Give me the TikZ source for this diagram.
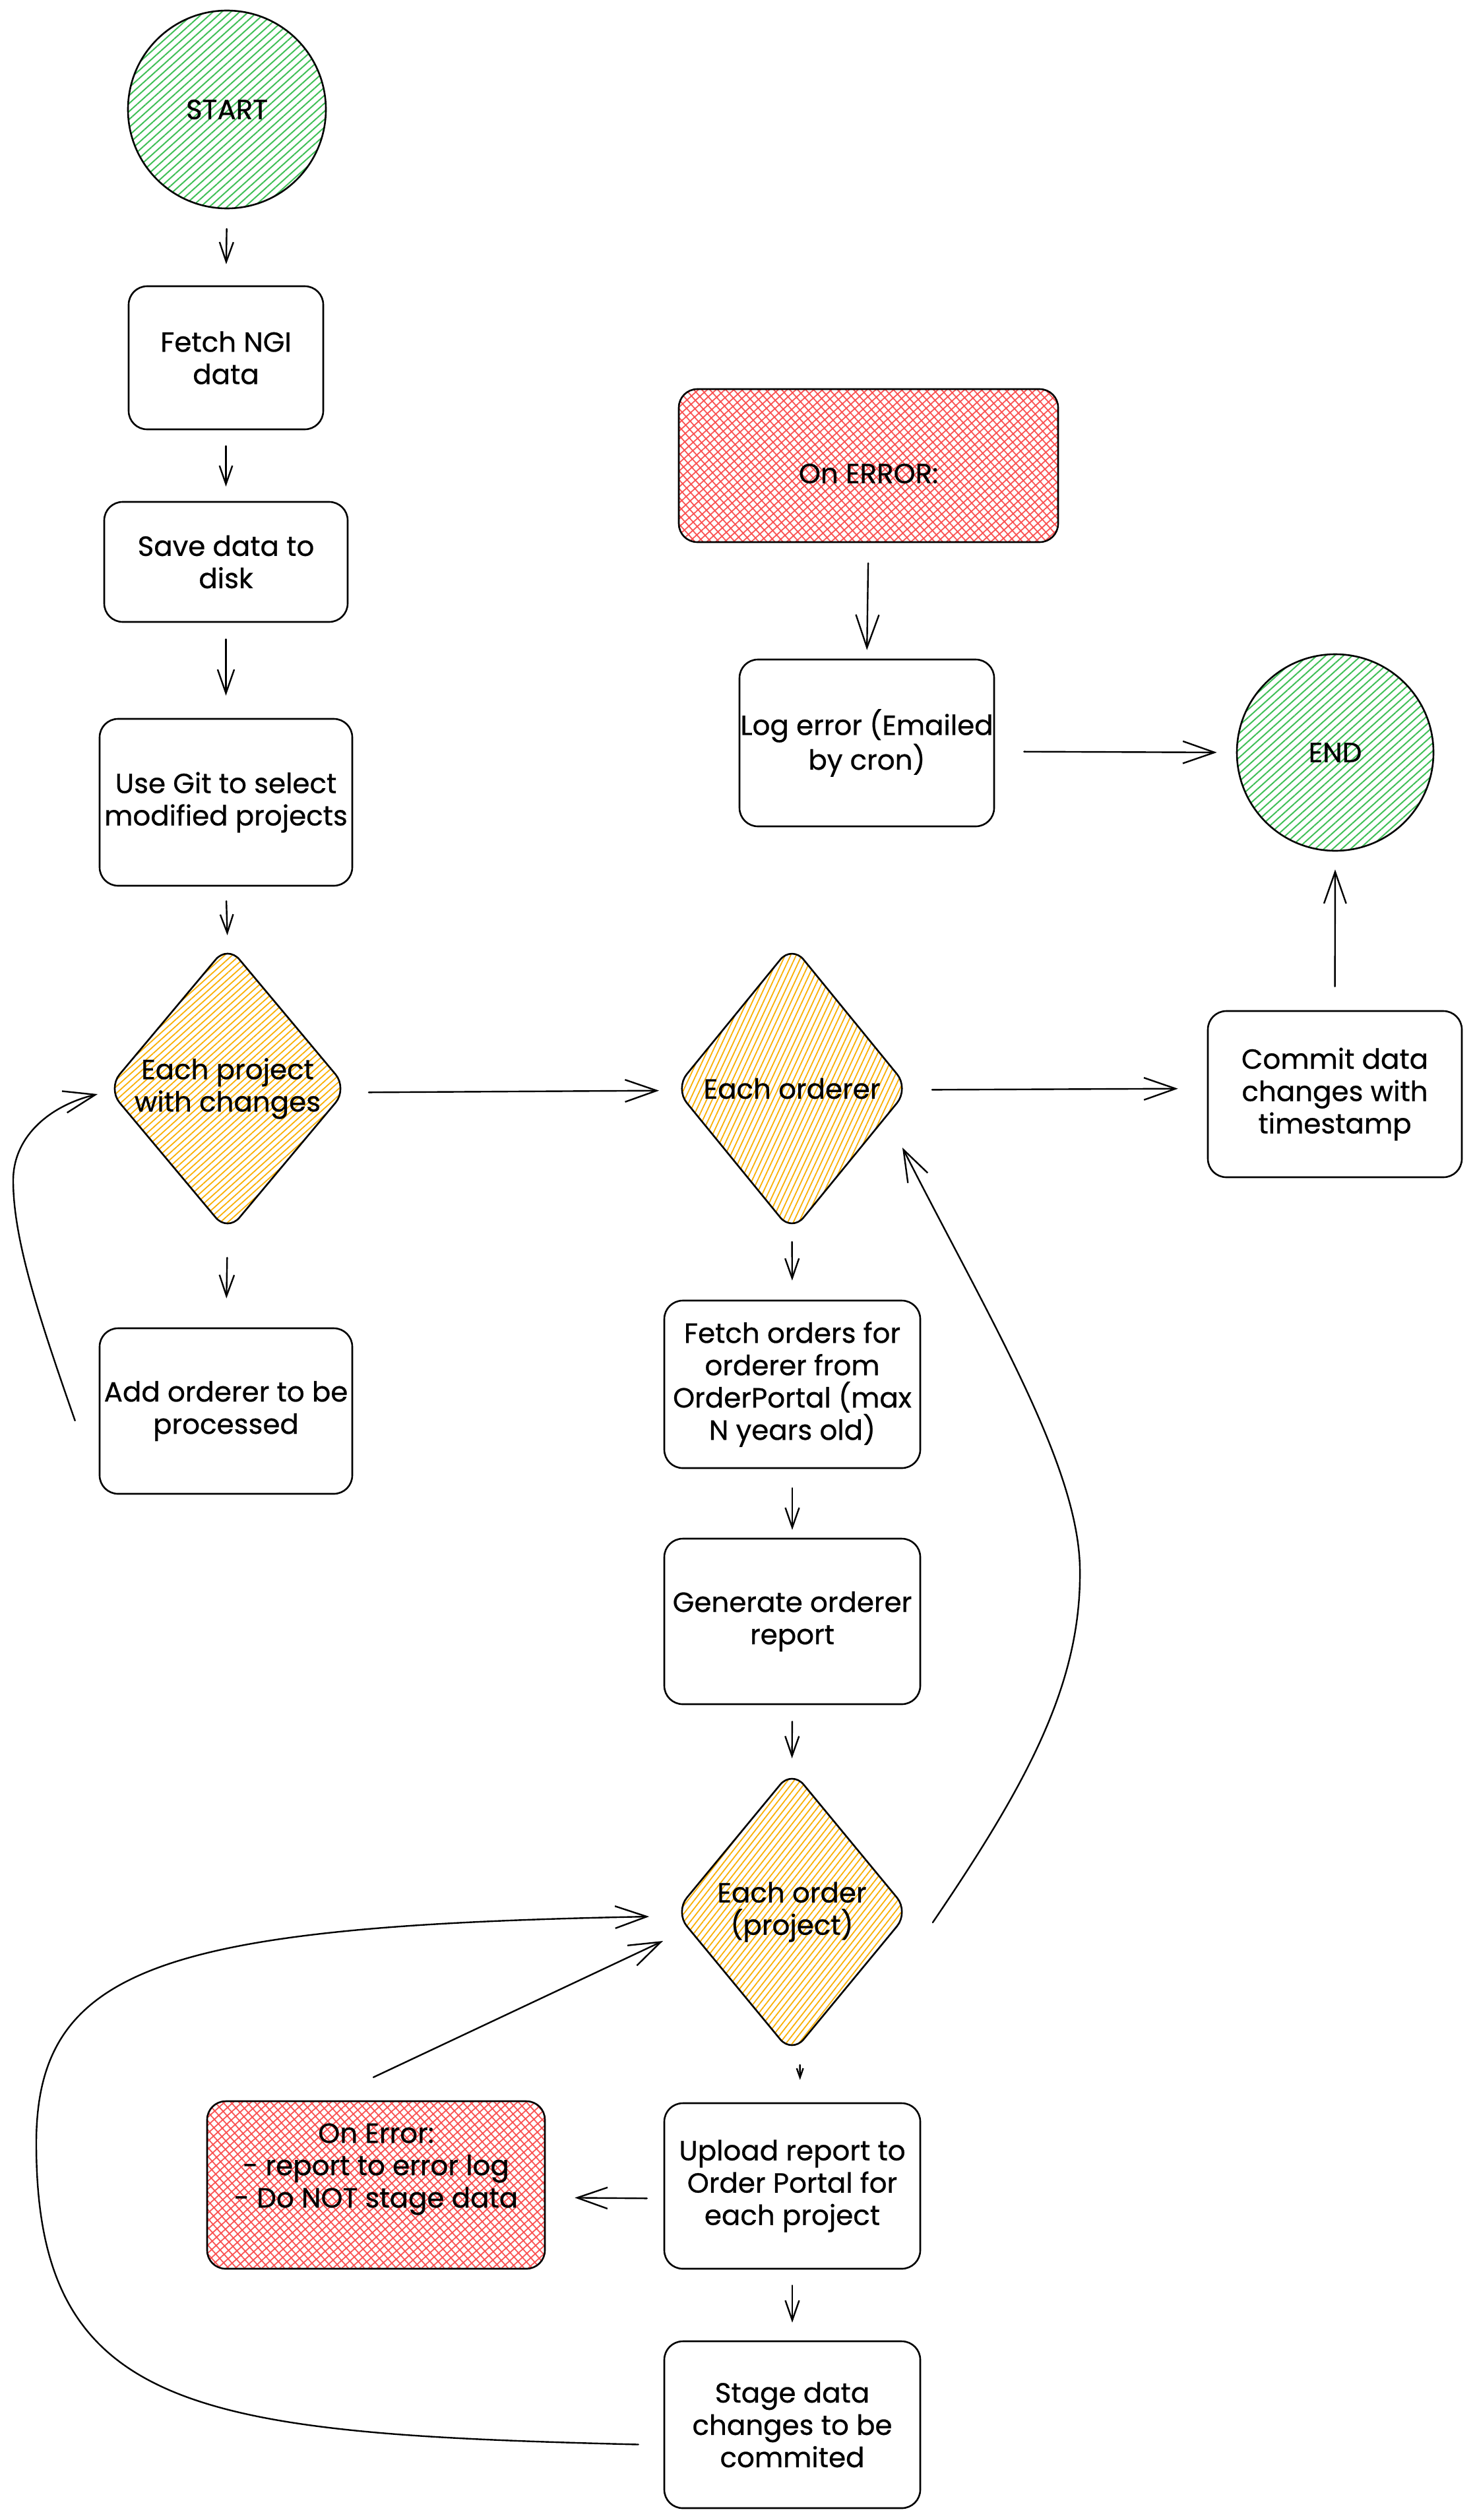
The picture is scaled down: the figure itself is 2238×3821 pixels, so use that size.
\documentclass[tikz,border=0pt]{standalone}
\usepackage{fontspec}
\setmainfont{Poppins}
\newfontfamily\flowfont{Poppins}[FakeBold=0.6]
\usetikzlibrary{shapes.geometric,arrows.meta,patterns.meta,calc}
\definecolor{hgreen}{HTML}{40C057}
\definecolor{hyellow}{HTML}{FAB005}
\definecolor{hred}{HTML}{FA5252}
\newcommand\flowtxt{\flowfont\fontsize{21}{24.5}\selectfont}
\tikzset{
 base/.style={draw=black, line width=1.3pt, align=center, font=\flowtxt, inner sep=0pt},
 rbox/.style={base, rectangle, rounded corners=14pt},
 circ/.style={base, circle, pattern={Lines[angle=42,distance=4.5pt,line width=1pt]}, pattern color=hgreen},
 dia/.style={base, diamond, rounded corners=14pt, pattern={Lines[angle=#1,distance=3.8pt,line width=0.9pt]}, pattern color=hyellow},
 errbox/.style={rbox, pattern={Hatch[angle=42,distance=4.5pt,line width=0.9pt]}, pattern color=hred},
 ar/.style={line width=1.2pt, line cap=round, -{Straight Barb[length=#1,width'=0pt 0.7,line width=1.2pt]}},
 ar/.default=15pt,
 lbl/.style={font=\flowtxt, align=center}
}
\begin{document}
\begin{tikzpicture}[x=0.5pt,y=-0.5pt]
\fill[white] (0,0) rectangle (2238,3821);
\useasboundingbox (0,0) rectangle (2238,3821);

% left column
\node[circ, minimum size=150pt] (start) at (344,166) {START};
\node[rbox, minimum width=147.5pt, minimum height=108.5pt] (fetch) at (342.5,542.5) {Fetch NGI\\data};
\node[rbox, minimum width=184.5pt, minimum height=91pt] (save) at (342.5,852) {Save data to\\disk};
\node[rbox, minimum width=191.5pt, minimum height=126.5pt] (git) at (342.5,1216.5) {Use Git to select\\modified projects};
\node[dia=42, minimum width=182pt, minimum height=217.5pt, label={[lbl]center:Each project\\with changes}] (d1) at (345,1650.5) {};
\node[rbox, minimum width=191.5pt, minimum height=125.5pt] (add) at (342.5,2139.5) {Add orderer to be\\processed};

% error / end
\node[errbox, minimum width=287.5pt, minimum height=116pt, label={[lbl,yshift=-6pt]center:On ERROR:}] (err) at (1316.5,706) {};
\node[rbox, minimum width=193pt, minimum height=126.5pt] (log) at (1314,1126.5) {Log error (Emailed\\by cron)};
\node[circ, minimum size=149pt] (end) at (2024,1141) {END};

% middle column
\node[dia=65, minimum width=177.5pt, minimum height=217.5pt, label={[lbl]center:Each orderer}] (d2) at (1200.5,1650.5) {};
\node[rbox, minimum width=192.5pt, minimum height=126pt] (commit) at (2023.5,1659) {Commit data\\changes with\\timestamp};
\node[rbox, minimum width=194pt, minimum height=127pt] (fo) at (1201,2099) {Fetch orders for\\orderer from\\OrderPortal (max\\N years old)};
\node[rbox, minimum width=194pt, minimum height=125.5pt] (gen) at (1201,2458.5) {Generate orderer\\report};
\node[dia=52, minimum width=177.5pt, minimum height=215pt, label={[lbl]center:Each order\\(project)}] (d3) at (1200.5,2899) {};
\node[rbox, minimum width=194pt, minimum height=125.5pt] (up) at (1201,3314.5) {Upload report to\\Order Portal for\\each project};
\node[errbox, minimum width=256pt, minimum height=127pt, label={[lbl,yshift=12pt]center:On Error:\\- report to error log\\- Do NOT stage data}] (oe) at (570,3313) {};
\node[rbox, minimum width=194pt, minimum height=126.5pt] (stage) at (1201,3676.5) {Stage data\\changes to be\\commited};

% straight connectors
\draw[ar=15pt, shorten <=15pt, shorten >=16pt] (start.south) -- (fetch.north);
\draw[ar=14pt, shorten <=12pt, shorten >=11pt] (fetch.south) -- (save.north);
\draw[ar=18pt, shorten <=12.5pt, shorten >=17pt] (save.south) -- (git.north);
\draw[ar=14pt, shorten <=11pt, shorten >=7pt] (git.south) -- (d1.north);
\draw[ar=16pt, shorten <=19pt, shorten >=22pt] (d1.south) -- (add.north);
\draw[ar=24pt, shorten <=15.5pt, shorten >=11.5pt] ($(d1.east)+(0,6)$) -- ($(d2.west)+(0,3)$);
\draw[ar=24pt, shorten <=17pt, shorten >=22pt] ($(d2.east)+(0,2)$) -- ($(d2.east -| commit.west)+(0,0)$);
\draw[ar=24pt, shorten <=18pt, shorten >=13.5pt] (commit.north) -- (end.south);
\draw[ar=25pt, shorten <=15.5pt, shorten >=6.5pt] (err.south) -- (log.north);
\draw[ar=24pt, shorten <=22pt, shorten >=14.5pt] ($(log.east)+(0,13)$) -- (end.west);
\draw[ar=15pt, shorten <=7pt, shorten >=14.5pt] (d2.south) -- (fo.north);
\draw[ar=15pt, shorten <=14.5pt, shorten >=6pt] (fo.south) -- (gen.north);
\draw[ar=15pt, shorten <=12.5pt, shorten >=8.5pt] (gen.south) -- (d3.north);
\draw[ar=7pt, shorten <=8pt, shorten >=17pt] ($(d3.south)+(12,0)$) -- ($(up.north)+(12,0)$);
\draw[ar=23pt, shorten <=12.5pt, shorten >=22pt] ($(up.west)+(0,19)$) -- ($(oe.east)+(0,19)$);
\draw[ar=15pt, shorten <=12pt, shorten >=13.5pt] (up.south) -- (stage.north);
\draw[ar=24pt] ($(oe.north)+(-4,-35)$) -- ($(d3.center)+(-195.5,44)$);

% curved connectors
\draw[ar=24pt] ($(add.west)+(-36,14.5)$) .. controls (60,2000) and (20,1880) .. (20,1790)
  .. controls (20,1720) and (80,1675) .. ($(d1.west)+(-14,8.5)$);
\draw[ar=24pt] ($(stage.west)+(-38,30)$) .. controls (300,3690) and (55,3660) .. (55,3250)
  .. controls (55,2980) and (250,2920) .. ($(d3.west)+(-38,7)$);
\draw[ar=24pt] ($(d3.east)+(35,16)$) .. controls (1560,2700) and (1640,2550) .. (1637,2377)
  .. controls (1634,2220) and (1500,2000) .. ($(d2.east)+(-11,89.5)$);
\end{tikzpicture}
\end{document}
